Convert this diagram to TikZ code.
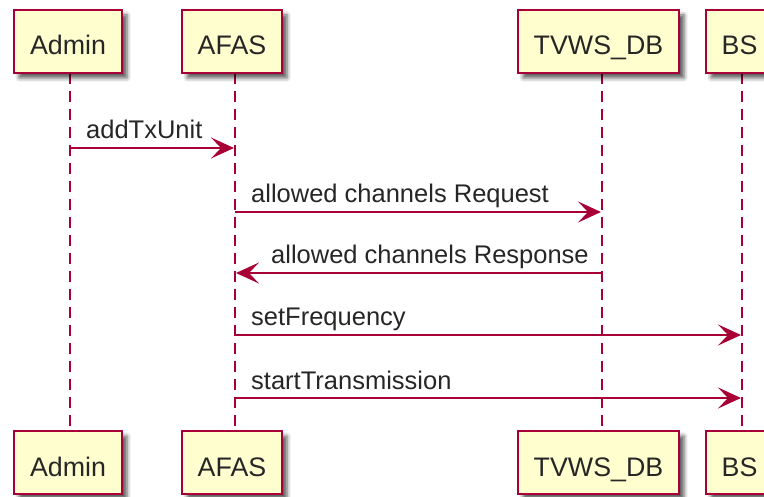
\documentclass[tikz,border=0pt]{standalone}
\usepackage{fontspec}
\setmainfont{Liberation Sans}
\usetikzlibrary{arrows.meta,shadows.blur}
\definecolor{pfill}{HTML}{FEFECE}
\definecolor{pline}{HTML}{A80036}
\begin{document}
\begin{tikzpicture}[x=1pt,y=-1pt,
  pbox/.style={draw=pline, fill=pfill, line width=2.5pt, minimum width=#1, minimum height=63pt, inner sep=0pt,
    blur shadow={shadow xshift=5pt, shadow yshift=-5pt, shadow blur radius=4pt, shadow opacity=65}},
  ptext/.style={anchor=base, inner sep=0pt, font=\fontsize{26.8}{30}\selectfont, text=black!85},
  life/.style={draw=pline, line width=1.8pt, dash pattern=on 11pt off 7pt},
  msg/.style={draw=pline, line width=2pt, shorten >=1pt, -{Stealth[length=23pt,width=21pt,inset=10pt]}},
  mtext/.style={anchor=base west, inner sep=0pt, font=\fontsize{25.5}{30}\selectfont, text=black!85}]
\useasboundingbox (0,0) rectangle (764,497);
% lifelines
\coordinate (adminA) at (70,73);   \coordinate (adminB) at (70,431);
\coordinate (afasA) at (235,73);   \coordinate (afasB) at (235,431);
\coordinate (tvwsA) at (602,73);   \coordinate (tvwsB) at (602,431);
\coordinate (bsA) at (742,73);     \coordinate (bsB) at (742,431);
\draw[life] (adminA) -- (adminB);
\draw[life] (afasA) -- (afasB);
\draw[life] (tvwsA) -- (tvwsB);
\draw[life] (bsA) -- (bsB);
% participant boxes top
\node[pbox=108pt] (adminT) at (68,41.5) {};
\node[pbox=100pt] (afasT) at (232,41.5) {};
\node[pbox=161pt] (tvwsT) at (598.5,41.5) {};
\node[pbox=67pt] (bsT) at (739.5,41.5) {};
\node[ptext] (adminTt) at (68,55) {Admin};
\node[ptext] (afasTt) at (232,55) {AFAS};
\node[ptext] (tvwsTt) at (598.5,55) {TVWS\_DB};
\node[ptext] (bsTt) at (739.5,55) {BS};
% participant boxes bottom
\node[pbox=108pt] (adminB2) at (68,462.5) {};
\node[pbox=100pt] (afasB2) at (232,462.5) {};
\node[pbox=161pt] (tvwsB2) at (598.5,462.5) {};
\node[pbox=67pt] (bsB2) at (739.5,462.5) {};
\node[ptext] (adminBt) at (68,476) {Admin};
\node[ptext] (afasBt) at (232,476) {AFAS};
\node[ptext] (tvwsBt) at (598.5,476) {TVWS\_DB};
\node[ptext] (bsBt) at (739.5,476) {BS};
% message endpoints
\coordinate (m1a) at (70,148);   \coordinate (m1b) at (235,148);
\coordinate (m2a) at (235,212);  \coordinate (m2b) at (602,212);
\coordinate (m3a) at (602,273);  \coordinate (m3b) at (235,273);
\coordinate (m4a) at (235,335);  \coordinate (m4b) at (742,335);
\coordinate (m5a) at (235,398);  \coordinate (m5b) at (742,398);
\draw[msg] (m1a) -- (m1b);
\draw[msg] (m2a) -- (m2b);
\draw[msg] (m3a) -- (m3b);
\draw[msg] (m4a) -- (m4b);
\draw[msg] (m5a) -- (m5b);
\node[mtext] (l1) at (86,139) {addTxUnit};
\node[mtext] (l2) at (251,203) {allowed channels Request};
\node[mtext] (l3) at (271,264) {allowed channels Response};
\node[mtext] (l4) at (251,326) {setFrequency};
\node[mtext] (l5) at (251,389) {startTransmission};
\end{tikzpicture}
\end{document}
